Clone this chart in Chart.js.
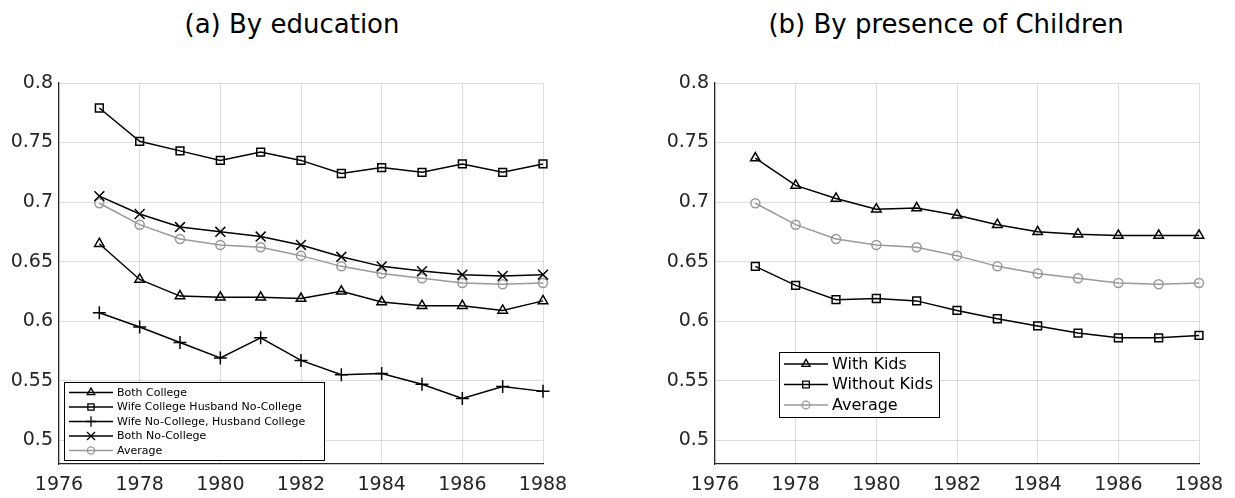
<!DOCTYPE html>
<html>
<head>
<meta charset="utf-8">
<script src="https://cdn.jsdelivr.net/npm/chart.js@4/dist/chart.umd.min.js"></script>
<style>
  html, body { margin: 0; padding: 0; background: #fff; }
  body { width: 1235px; height: 498px; position: relative; overflow: hidden; font-family: "DejaVu Sans", sans-serif; }
  canvas { position: absolute; top: 0; }
  .title { position: absolute; top: 9px; font-size: 26px; color: #000; white-space: nowrap; transform: translateX(-50%); line-height: 30px; }
</style>
</head>
<body>
<div class="title" style="left:292px">(a) By education</div>
<div class="title" style="left:946px">(b) By presence of Children</div>
<canvas id="chartA" width="600" height="498" style="left:0px"></canvas>
<canvas id="chartB" width="618" height="498" style="left:617px"></canvas>
<script>
// ---------- data ----------
const years = [1977, 1978, 1979, 1980, 1981, 1982, 1983, 1984, 1985, 1986, 1987, 1988];
const xTicks = [1976, 1978, 1980, 1982, 1984, 1986, 1988];
const yTicks = [0.5, 0.55, 0.6, 0.65, 0.7, 0.75, 0.8];

const bothCollege     = [0.665, 0.635, 0.621, 0.620, 0.620, 0.619, 0.625, 0.616, 0.613, 0.613, 0.609, 0.617];
const wifeCollege     = [0.779, 0.751, 0.743, 0.735, 0.742, 0.735, 0.724, 0.729, 0.725, 0.732, 0.725, 0.732];
const wifeNoCollege   = [0.607, 0.595, 0.582, 0.569, 0.586, 0.567, 0.555, 0.556, 0.547, 0.535, 0.545, 0.541];
const bothNoCollege   = [0.705, 0.690, 0.679, 0.675, 0.671, 0.664, 0.654, 0.646, 0.642, 0.639, 0.638, 0.639];
const average         = [0.699, 0.681, 0.669, 0.664, 0.662, 0.655, 0.646, 0.640, 0.636, 0.632, 0.631, 0.632];

const withKids        = [0.737, 0.714, 0.703, 0.694, 0.695, 0.689, 0.681, 0.675, 0.673, 0.672, 0.672, 0.672];
const withoutKids     = [0.646, 0.630, 0.618, 0.619, 0.617, 0.609, 0.602, 0.596, 0.590, 0.586, 0.586, 0.588];

// ---------- helpers ----------
const BLACK = '#000000';
const GRAY = '#999999';
const AXIS = '#262626';
const GRID = 'rgba(0,0,0,0.13)';

Chart.defaults.font.family = '"DejaVu Sans", sans-serif';

function pts(vals) { return years.map((y, i) => ({ x: y, y: vals[i] })); }

function ds(label, vals, color, style, radius) {
  return {
    label: label,
    data: pts(vals),
    borderColor: color,
    backgroundColor: 'rgba(0,0,0,0)',
    borderWidth: 1.5,
    pointStyle: style,
    pointRadius: radius,
    pointBorderColor: color,
    pointBackgroundColor: 'rgba(0,0,0,0)',
    pointBorderWidth: 1.5,
    pointHoverRadius: radius,
    tension: 0,
    clip: false
  };
}

function drawMarker(ctx, style, radius, x, y) {
  if (Chart.helpers && Chart.helpers.drawPoint) {
    Chart.helpers.drawPoint(ctx, { pointStyle: style, radius: radius, rotation: 0, borderWidth: 1.3 }, x, y);
  }
}

const boxLegend = {
  id: 'boxLegend',
  afterDatasetsDraw(chart, args, o) {
    const { ctx, chartArea } = chart;
    const left = chartArea.left + o.dx;
    const top = chartArea.bottom - o.dyBottom - o.h;
    ctx.save();
    ctx.fillStyle = '#ffffff';
    ctx.fillRect(left, top, o.w, o.h);
    ctx.strokeStyle = '#000000';
    ctx.lineWidth = 1;
    ctx.strokeRect(left + 0.5, top + 0.5, o.w, o.h);
    chart.data.datasets.forEach((d, i) => {
      const cy = top + o.first + i * o.row;
      const x0 = left + o.lineX0, x1 = left + o.lineX1;
      ctx.strokeStyle = d.borderColor;
      ctx.lineWidth = 1.5;
      ctx.beginPath();
      ctx.moveTo(x0, cy);
      ctx.lineTo(x1, cy);
      ctx.stroke();
      ctx.fillStyle = 'rgba(0,0,0,0)';
      ctx.strokeStyle = d.borderColor;
      ctx.lineWidth = 1.3;
      drawMarker(ctx, d.pointStyle, d.pointRadius * o.mScale, (x0 + x1) / 2, cy);
      ctx.fillStyle = '#000000';
      ctx.font = o.fontSize + 'px "DejaVu Sans", sans-serif';
      ctx.textBaseline = 'middle';
      ctx.textAlign = 'left';
      ctx.fillText(d.label, left + o.textX, cy + 0.5);
    });
    ctx.restore();
  }
};

function makeOptions(padLeft, padRight, legendOpts) {
  return {
    responsive: false,
    animation: false,
    events: [],
    layout: { padding: { left: padLeft, right: padRight, top: 83, bottom: 0 } },
    plugins: {
      legend: { display: false },
      title: { display: false },
      tooltip: { enabled: false },
      boxLegend: legendOpts
    },
    scales: {
      x: {
        type: 'linear',
        min: 1976, max: 1988,
        afterBuildTicks: (s) => { s.ticks = xTicks.map(v => ({ value: v })); },
        afterFit: (s) => { s.height = 34; },
        grid: { color: GRID, lineWidth: 1, drawTicks: false },
        border: { display: true, color: AXIS, width: 1.2 },
        ticks: { color: AXIS, font: { size: 19 }, padding: 10, maxRotation: 0, autoSkip: false,
                 callback: (v) => String(v) }
      },
      y: {
        type: 'linear',
        min: 0.48, max: 0.8,
        afterBuildTicks: (s) => { s.ticks = yTicks.map(v => ({ value: v })); },
        afterFit: (s) => { s.width = 59; },
        grid: { color: GRID, lineWidth: 1, drawTicks: false },
        border: { display: true, color: AXIS, width: 1.2 },
        ticks: { color: AXIS, font: { size: 19 }, padding: 6, autoSkip: false,
                 callback: (v) => String(+(+v).toFixed(2)) }
      }
    }
  };
}

new Chart(document.getElementById('chartA'), {
  type: 'line',
  data: {
    datasets: [
      ds('Both College', bothCollege, BLACK, 'triangle', 5.5),
      ds('Wife College Husband No-College', wifeCollege, BLACK, 'rect', 5.5),
      ds('Wife No-College, Husband College', wifeNoCollege, BLACK, 'cross', 6.5),
      ds('Both No-College', bothNoCollege, BLACK, 'crossRot', 7),
      ds('Average', average, GRAY, 'circle', 4.5)
    ]
  },
  options: makeOptions(0, 57, {
    dx: 5, dyBottom: 4, w: 260, h: 78, first: 10.5, row: 14.5,
    lineX0: 5, lineX1: 49, textX: 53, fontSize: 11, mScale: 0.8
  }),
  plugins: [boxLegend]
});

new Chart(document.getElementById('chartB'), {
  type: 'line',
  data: {
    datasets: [
      ds('With Kids', withKids, BLACK, 'triangle', 5.5),
      ds('Without Kids', withoutKids, BLACK, 'rect', 5.5),
      ds('Average', average, GRAY, 'circle', 4.5)
    ]
  },
  options: makeOptions(39, 36, {
    dx: 64, dyBottom: 47, w: 160, h: 65, first: 12, row: 20.5,
    lineX0: 5, lineX1: 49, textX: 53, fontSize: 16, mScale: 0.85
  }),
  plugins: [boxLegend]
});
</script>
</body>
</html>
